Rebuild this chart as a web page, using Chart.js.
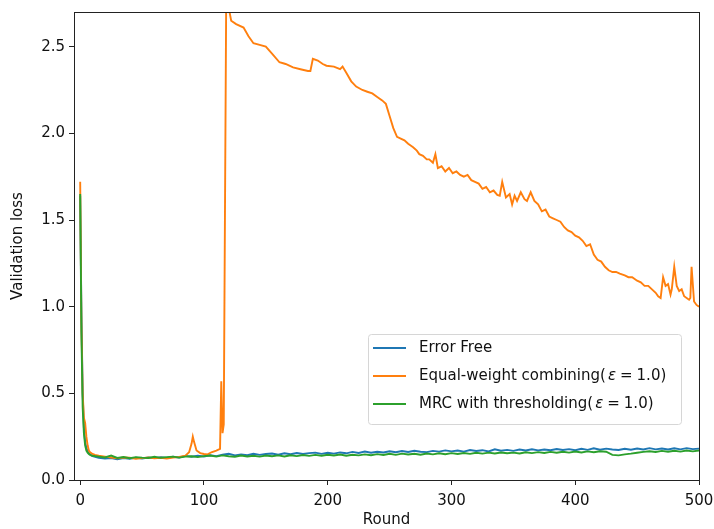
<!DOCTYPE html>
<html>
<head>
<meta charset="utf-8">
<script src="https://cdn.jsdelivr.net/npm/chart.js@4"></script>
<style>
  html, body { margin: 0; padding: 0; background: #fff; }
  #wrap { width: 714px; height: 529px; }
</style>
</head>
<body>
<div id="wrap"><canvas id="lossChart" width="714" height="529"></canvas></div>
<script>
// rounds shared by the two flat curves
let rounds = [0, 1, 2, 3, 4, 5, 6, 7, 8, 9,
    10, 15, 20, 25, 30, 35, 40, 45, 50, 55, 60, 65, 70, 75, 80, 85, 90, 95,
    100, 105, 110, 115, 120, 125, 130, 135, 140, 145, 150, 155, 160, 165, 170, 175, 180, 185, 190, 195,
    200, 205, 210, 215, 220, 225, 230, 235, 240, 245, 250, 255, 260, 265, 270, 275, 280, 285, 290, 295,
    300, 305, 310, 315, 320, 325, 330, 335, 340, 345, 350, 355, 360, 365, 370, 375, 380, 385, 390, 395,
    400, 405, 410, 415, 420, 425, 430, 435, 440, 445, 450, 455, 460, 465, 470, 475, 480, 485, 490, 495, 500];

let errorFree = [1.64, 0.95, 0.50, 0.30, 0.22, 0.185, 0.165, 0.155, 0.148, 0.142,
    0.138, 0.128, 0.124, 0.127, 0.120, 0.126, 0.122, 0.129, 0.124, 0.130, 0.126, 0.132, 0.127, 0.134, 0.130, 0.139, 0.134, 0.140,
    0.136, 0.143, 0.138, 0.146, 0.151, 0.142, 0.148, 0.143, 0.151, 0.145, 0.150, 0.153, 0.146, 0.154, 0.149, 0.156, 0.150, 0.155, 0.158, 0.151,
    0.157, 0.152, 0.159, 0.154, 0.162, 0.156, 0.164, 0.157, 0.163, 0.159, 0.166, 0.160, 0.167, 0.162, 0.169, 0.163, 0.161, 0.168, 0.164, 0.171,
    0.165, 0.170, 0.164, 0.173, 0.167, 0.172, 0.165, 0.177, 0.169, 0.174, 0.168, 0.176, 0.170, 0.177, 0.171, 0.176, 0.172, 0.179, 0.173, 0.178,
    0.172, 0.180, 0.174, 0.183, 0.175, 0.181, 0.176, 0.173, 0.180, 0.175, 0.182, 0.176, 0.184, 0.177, 0.182, 0.176, 0.183, 0.177, 0.184, 0.178, 0.181];

let mrcThreshold = [1.65, 0.85, 0.42, 0.27, 0.20, 0.170, 0.158, 0.150, 0.145, 0.142,
    0.140, 0.135, 0.130, 0.141, 0.127, 0.133, 0.126, 0.132, 0.129, 0.127, 0.134, 0.128, 0.132, 0.135, 0.129, 0.135, 0.137, 0.132,
    0.138, 0.141, 0.135, 0.142, 0.137, 0.134, 0.141, 0.136, 0.140, 0.135, 0.141, 0.137, 0.142, 0.136, 0.143, 0.138, 0.144, 0.139, 0.145, 0.140,
    0.146, 0.141, 0.147, 0.140, 0.146, 0.142, 0.148, 0.143, 0.149, 0.144, 0.151, 0.145, 0.152, 0.147, 0.151, 0.146, 0.153, 0.148, 0.154, 0.149,
    0.155, 0.150, 0.156, 0.151, 0.157, 0.152, 0.158, 0.153, 0.159, 0.154, 0.158, 0.153, 0.160, 0.155, 0.161, 0.156, 0.162, 0.157, 0.163, 0.158,
    0.164, 0.159, 0.165, 0.160, 0.166, 0.163, 0.145, 0.142, 0.148, 0.152, 0.157, 0.162, 0.166, 0.162, 0.168, 0.163, 0.169, 0.164, 0.170, 0.165, 0.170];

// equal-weight combining has its own rounds (denser around the jumps)
let equalRounds = [0, 1, 2, 3, 4, 5, 6, 7, 8, 10, 12, 15, 20, 25, 30, 35, 40, 45, 50, 55, 60, 65, 70, 75, 80, 85,
    88, 90, 91, 92, 94, 97, 100, 103, 106, 110, 113, 114, 115, 116, 118, 122, 126, 132, 136, 140, 145, 150, 155,
    161, 166, 172, 178, 184, 186, 188, 192, 196, 199, 205, 210, 212, 215, 219, 223, 228, 232, 236, 240, 244,
    247, 250, 253, 256, 259, 262, 265, 269, 272, 274, 277, 280, 282, 285, 287, 289, 292, 295, 298, 301, 304,
    307, 310, 313, 316, 319, 322, 325, 328, 331, 334, 337, 339, 341, 344, 347, 349, 351, 353, 356, 359, 361,
    364, 367, 370, 373, 376, 379, 382, 385, 388, 391, 394, 397, 400, 403, 406, 409, 412, 415, 418, 421, 424,
    427, 430, 433, 436, 440, 443, 446, 450, 453, 456, 459, 462, 465, 467, 469, 471, 473, 475, 477, 478, 480,
    482, 484, 486, 488, 490, 492, 493, 494, 496, 498, 500];

let equalWeight = [1.72, 0.90, 0.50, 0.36, 0.33, 0.25, 0.20, 0.17, 0.16, 0.15, 0.145, 0.14, 0.135, 0.13, 0.125, 0.13, 0.128, 0.122, 0.126, 0.13, 0.125, 0.128, 0.124, 0.13, 0.133, 0.14,
    0.16, 0.21, 0.25, 0.22, 0.17, 0.155, 0.15, 0.148, 0.16, 0.17, 0.18, 0.57, 0.27, 0.32, 2.80, 2.65, 2.63, 2.61, 2.56, 2.52, 2.51, 2.50, 2.46,
    2.41, 2.40, 2.38, 2.37, 2.36, 2.36, 2.43, 2.42, 2.40, 2.39, 2.385, 2.37, 2.385, 2.35, 2.30, 2.27, 2.25, 2.24, 2.23, 2.21, 2.19,
    2.17, 2.10, 2.03, 1.98, 1.97, 1.96, 1.94, 1.92, 1.90, 1.88, 1.87, 1.85, 1.85, 1.83, 1.88, 1.80, 1.81, 1.78, 1.80, 1.77, 1.78,
    1.76, 1.75, 1.76, 1.73, 1.72, 1.71, 1.68, 1.69, 1.66, 1.67, 1.645, 1.64, 1.72, 1.63, 1.65, 1.59, 1.64, 1.61, 1.66, 1.62, 1.61, 1.66,
    1.61, 1.59, 1.55, 1.56, 1.52, 1.51, 1.50, 1.49, 1.46, 1.44, 1.43, 1.41, 1.40, 1.38, 1.35, 1.36, 1.30, 1.27, 1.26, 1.23, 1.21,
    1.20, 1.20, 1.19, 1.18, 1.17, 1.17, 1.15, 1.14, 1.12, 1.12, 1.10, 1.08, 1.06, 1.05, 1.17, 1.12, 1.13, 1.07, 1.10, 1.23, 1.12,
    1.09, 1.10, 1.06, 1.05, 1.04, 1.05, 1.23, 1.03, 1.01, 1.00, 0.99];

let seriesLabels = ["Error Free", "Equal-weight combining(\u03b5=1.0)", "MRC with thresholding(\u03b5=1.0)"];
let seriesColors = ["#1f77b4", "#ff7f0e", "#2ca02c"];
let xTicks = [0, 100, 200, 300, 400, 500];
let yTicks = [0.0, 0.5, 1.0, 1.5, 2.0, 2.5];

function toPoints(xs, ys) {
    return xs.map((x, i) => ({ x: x, y: ys[i] }));
}

let fontFamily = "'DejaVu Sans', sans-serif";
let fontSize = 15;

//box round the plot area, like a matplotlib axes frame
let framePlugin = {
    id: "frame",
    afterDraw(chart) {
        let a = chart.chartArea;
        let ctx = chart.ctx;
        ctx.save();
        ctx.strokeStyle = "#222";
        ctx.lineWidth = 1;
        ctx.strokeRect(Math.round(a.left) + 0.5, Math.round(a.top) + 0.5,
            Math.round(a.right - a.left), Math.round(a.bottom - a.top));
        ctx.restore();
    },
};

//legend box in the lower right of the axes
let legendPlugin = {
    id: "mplLegend",
    afterDraw(chart) {
        let ctx = chart.ctx;
        let a = chart.chartArea;
        let boxW = 313, boxH = 90;
        let bx = a.right - 18 - boxW, by = a.bottom - 56 - boxH;
        ctx.save();
        ctx.beginPath();
        ctx.roundRect(bx + 0.5, by + 0.5, boxW, boxH, 3);
        ctx.fillStyle = "rgba(255,255,255,0.8)";
        ctx.fill();
        ctx.strokeStyle = "#d6d6d6";
        ctx.lineWidth = 1;
        ctx.stroke();
        ctx.textBaseline = "middle";
        chart.data.datasets.forEach((ds, i) => {
            let y = by + 14 + i * 28;
            ctx.strokeStyle = ds.borderColor;
            ctx.lineWidth = 2;
            ctx.beginPath();
            ctx.moveTo(bx + 5, y);
            ctx.lineTo(bx + 38, y);
            ctx.stroke();
            ctx.fillStyle = "#111";
            let x = bx + 51;
            //epsilon drawn in italic like mathtext, with room round "="
            let parts = ds.label.split("\u03b5");
            parts.forEach((p, j) => {
                ctx.font = fontSize + "px " + fontFamily;
                if (j > 0) {
                    x += 4;
                    ctx.fillText("=", x, y);
                    x += ctx.measureText("=").width + 4;
                    p = p.slice(1);
                }
                ctx.fillText(p, x, y);
                x += ctx.measureText(p).width;
                if (j < parts.length - 1) {
                    x += 2;
                    ctx.font = "italic " + fontSize + "px " + fontFamily;
                    ctx.fillText("\u03b5", x, y);
                    x += ctx.measureText("\u03b5").width;
                }
            });
        });
        ctx.restore();
    },
};

let lossData = {
    datasets: [{
        label: seriesLabels[0],
        data: toPoints(rounds, errorFree),
        borderColor: seriesColors[0],
        order: 3,
    }, {
        label: seriesLabels[1],
        data: toPoints(equalRounds, equalWeight),
        borderColor: seriesColors[1],
        order: 2,
    }, {
        label: seriesLabels[2],
        data: toPoints(rounds, mrcThreshold),
        borderColor: seriesColors[2],
        order: 1,
    }, ],
};

let lossOptions = {
    responsive: false,
    animation: false,
    layout: {
        padding: { top: 12, right: 15, left: 0, bottom: 0 },
    },
    elements: {
        point: { radius: 0 },
        line: { borderWidth: 1.9, tension: 0, fill: false },
    },
    plugins: {
        legend: { display: false },
        tooltip: { enabled: false },
    },
    scales: {
        x: {
            type: "linear",
            min: -5,
            max: 500,
            afterFit(scale) {
                scale.height = 49;
                scale.paddingLeft = 0;
                scale.paddingRight = 0;
            },
            afterBuildTicks(scale) { scale.ticks = xTicks.map(v => ({ value: v })); },
            grid: { drawOnChartArea: false, drawTicks: true, tickLength: 5, color: "#222" },
            border: { display: false },
            ticks: { color: "#111", padding: 7, maxRotation: 0, font: { family: fontFamily, size: fontSize } },
            title: { display: true, text: "Round", color: "#111", padding: { top: 0, bottom: 0 }, font: { family: fontFamily, size: fontSize } },
        },
        y: {
            min: 0,
            max: 2.7,
            afterFit(scale) {
                scale.width = 74;
                scale.paddingTop = 0;
                scale.paddingBottom = 0;
            },
            afterBuildTicks(scale) { scale.ticks = yTicks.map(v => ({ value: v })); },
            grid: { drawOnChartArea: false, drawTicks: true, tickLength: 5, color: "#222" },
            border: { display: false },
            ticks: {
                color: "#111",
                padding: 4,
                font: { family: fontFamily, size: fontSize },
                callback: v => v.toFixed(1),
            },
            title: { display: true, text: "Validation loss", color: "#111", padding: { top: 9, bottom: 0 }, font: { family: fontFamily, size: fontSize } },
        },
    },
};

new Chart(document.getElementById("lossChart").getContext("2d"), {
    type: "line",
    data: lossData,
    options: lossOptions,
    plugins: [framePlugin, legendPlugin],
});
</script>
</body>
</html>
